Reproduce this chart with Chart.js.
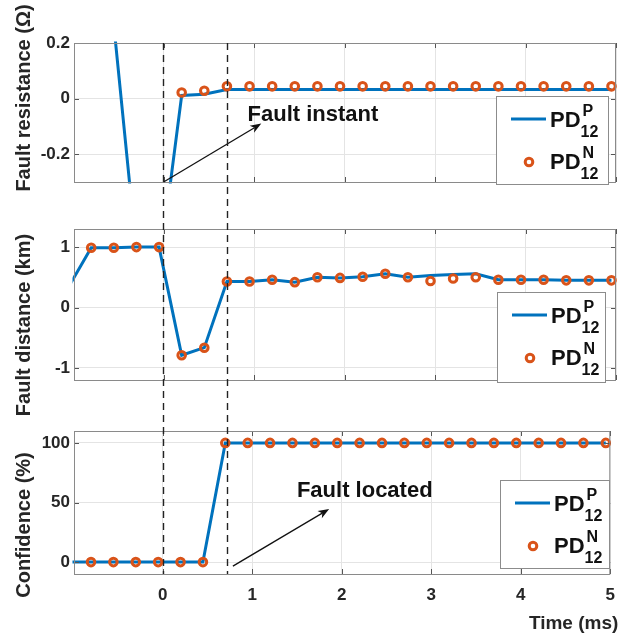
<!DOCTYPE html>
<html>
<head>
<meta charset="utf-8">
<script src="https://cdn.jsdelivr.net/npm/chart.js@4.4.1/dist/chart.umd.min.js"></script>
<style>
  html, body { margin: 0; padding: 0; background: #fff; }
  #fig { position: relative; width: 626px; height: 637px; overflow: hidden; }
  #fig canvas { position: absolute; left: 0; top: 0; }
</style>
</head>
<body>
<div id="fig">
  <canvas id="resChart" width="626" height="637"></canvas>
  <canvas id="distChart" width="626" height="637"></canvas>
  <canvas id="confChart" width="626" height="637"></canvas>
</div>
<script>
// sample times (ms)
const timeMs = [-1.05, -0.8, -0.55, -0.3, -0.05, 0.2, 0.45, 0.7, 0.95, 1.2, 1.45, 1.7, 1.95,
                2.2, 2.45, 2.7, 2.95, 3.2, 3.45, 3.7, 3.95, 4.2, 4.45, 4.7, 4.95];

// Fault resistance (ohm)
const resistP = [null, 0.5, 0.265, -0.55, -0.62, 0.011, 0.016, 0.033, 0.033, 0.033, 0.033, 0.033, 0.033,
                 0.033, 0.033, 0.033, 0.033, 0.033, 0.033, 0.033, 0.033, 0.033, 0.033, 0.033, 0.033];
const resistN = [null, null, null, null, null, 0.022, 0.028, 0.044, 0.044, 0.044, 0.044, 0.044, 0.044,
                 0.044, 0.044, 0.044, 0.044, 0.044, 0.044, 0.044, 0.044, 0.044, 0.044, 0.044, 0.044];

// Fault distance (km)
const distP = [0.34, 0.99, 0.99, 1.0, 1.0, -0.79, -0.665, 0.43, 0.43, 0.46, 0.42, 0.5, 0.49,
               0.51, 0.56, 0.5, 0.53, 0.545, 0.56, 0.46, 0.46, 0.46, 0.45, 0.45, 0.45];
const distN = [null, 0.99, 0.99, 1.0, 1.0, -0.79, -0.665, 0.43, 0.43, 0.46, 0.42, 0.5, 0.49,
               0.51, 0.56, 0.5, 0.44, 0.48, 0.5, 0.46, 0.46, 0.46, 0.45, 0.45, 0.45];

// Confidence (%)
const confP = [0, 0, 0, 0, 0, 0, 0, 100, 100, 100, 100, 100, 100,
               100, 100, 100, 100, 100, 100, 100, 100, 100, 100, 100, 100];
const confN = [null, 0, 0, 0, 0, 0, 0, 100, 100, 100, 100, 100, 100,
               100, 100, 100, 100, 100, 100, 100, 100, 100, 100, 100, 100];

const xTicks = [0, 1, 2, 3, 4, 5];
const resTicks = [-0.2, 0, 0.2];
const distTicks = [-1, 0, 1];
const confTicks = [0, 50, 100];

const faultTimes = [0, 0.72];   // dashed markers: fault instant, fault located
const legendBase = 'PD';
const legendSups = ['P', 'N'];
const legendSub = '12';

const BLUE = '#0072BD';
const ORANGE = '#D95319';
const INK = '#262626';
const FONT = '"Liberation Sans", Arial, Helvetica, sans-serif';
const MARK_R = 3.8, MARK_W = 3;

Chart.defaults.font.family = FONT;

const pts = arr => timeMs.map((t, i) => ({ x: t, y: arr[i] }));

function line(ctx, x1, y1, x2, y2) {
  ctx.beginPath(); ctx.moveTo(x1, y1); ctx.lineTo(x2, y2); ctx.stroke();
}

function arrow(ctx, x1, y1, x2, y2) {
  ctx.save();
  ctx.strokeStyle = '#111'; ctx.fillStyle = '#111'; ctx.lineWidth = 1.3;
  const ang = Math.atan2(y2 - y1, x2 - x1);
  const len = 11, half = 4.2, notch = 8;
  const bx = x2 - len * Math.cos(ang), by = y2 - len * Math.sin(ang);
  const nx = x2 - notch * Math.cos(ang), ny = y2 - notch * Math.sin(ang);
  line(ctx, x1, y1, nx, ny);
  ctx.beginPath();
  ctx.moveTo(x2, y2);
  ctx.lineTo(bx + half * Math.sin(ang), by - half * Math.cos(ang));
  ctx.lineTo(nx, ny);
  ctx.lineTo(bx - half * Math.sin(ang), by + half * Math.cos(ang));
  ctx.closePath();
  ctx.fill();
  ctx.restore();
}

function pdLabel(ctx, x, y, sup) {
  ctx.fillStyle = '#111';
  ctx.textAlign = 'left'; ctx.textBaseline = 'alphabetic';
  ctx.font = 'bold 22px ' + FONT;
  ctx.fillText(legendBase, x, y);
  const w = ctx.measureText(legendBase).width;
  ctx.font = 'bold 16px ' + FONT;
  ctx.fillText(sup, x + w + 2, y - 11);
  ctx.fillText(legendSub, x + w, y + 10.5);
}

function drawLegend(ctx, b) {
  ctx.save();
  ctx.fillStyle = '#fff';
  ctx.fillRect(b.x, b.y, b.w, b.h);
  ctx.strokeStyle = '#8c8c8c'; ctx.lineWidth = 1;
  ctx.strokeRect(b.x + 0.5, b.y + 0.5, b.w, b.h);
  ctx.strokeStyle = BLUE; ctx.lineWidth = 3;
  line(ctx, b.x + 15, b.y + 23, b.x + 50, b.y + 23);
  ctx.strokeStyle = ORANGE; ctx.lineWidth = MARK_W;
  ctx.beginPath(); ctx.arc(b.x + 33, b.y + 66, MARK_R, 0, Math.PI * 2); ctx.stroke();
  pdLabel(ctx, b.x + 54, b.y + 30.5, legendSups[0]);
  pdLabel(ctx, b.x + 54, b.y + 72.5, legendSups[1]);
  ctx.restore();
}

// box, inward ticks, y label, annotations, legend
const axesDecor = {
  id: 'axesDecor',
  afterDraw(chart, args, o) {
    const { ctx, chartArea: a, scales: { x, y } } = chart;
    ctx.save();
    ctx.strokeStyle = '#555'; ctx.lineWidth = 1;
    x.ticks.forEach(t => {
      const px = Math.round(x.getPixelForValue(t.value)) + 0.5;
      line(ctx, px, a.bottom, px, a.bottom - 5);
      line(ctx, px, a.top, px, a.top + 5);
    });
    y.ticks.forEach(t => {
      const py = Math.round(y.getPixelForValue(t.value)) + 0.5;
      line(ctx, a.left, py, a.left + 5, py);
      line(ctx, a.right, py, a.right - 5, py);
    });
    ctx.strokeStyle = '#8a8a8a';
    ctx.strokeRect(a.left + 0.5, a.top + 0.5, a.right - a.left - 1, a.bottom - a.top);

    // y title
    ctx.save();
    ctx.translate(30, o.titleY);
    ctx.rotate(-Math.PI / 2);
    ctx.fillStyle = INK;
    ctx.font = 'bold 20px ' + FONT;
    ctx.textAlign = 'center'; ctx.textBaseline = 'alphabetic';
    ctx.fillText(o.title, 0, 0);
    ctx.restore();

    // x title
    if (o.xTitle) {
      ctx.fillStyle = INK;
      ctx.font = 'bold 19px ' + FONT;
      ctx.textAlign = 'right'; ctx.textBaseline = 'alphabetic';
      ctx.fillText(o.xTitle, a.right + 8, 629);
    }

    // annotation
    if (o.note) {
      const n = o.note;
      ctx.fillStyle = '#111';
      ctx.font = 'bold 22px ' + FONT;
      ctx.textAlign = 'left'; ctx.textBaseline = 'alphabetic';
      ctx.fillText(n.text, x.getPixelForValue(n.tx), y.getPixelForValue(n.ty));
      arrow(ctx, x.getPixelForValue(n.from[0]), y.getPixelForValue(n.from[1]),
                 x.getPixelForValue(n.to[0]), y.getPixelForValue(n.to[1]));
    }

    // dashed lines across all panels
    if (o.dashTop !== undefined) {
      ctx.strokeStyle = '#222'; ctx.lineWidth = 1.4;
      ctx.setLineDash([7, 5]);
      faultTimes.forEach(t => {
        const px = Math.round(x.getPixelForValue(t)) + 0.5;
        line(ctx, px, o.dashTop, px, a.bottom);
      });
      ctx.setLineDash([]);
    }

    drawLegend(ctx, o.legend);
    ctx.restore();
  }
};

function panel(id, p) {
  return new Chart(document.getElementById(id), {
    type: 'line',
    data: {
      datasets: [
        { data: pts(p.seriesN), showLine: false, order: 0, clip: 5,
          pointStyle: 'circle', pointRadius: MARK_R, pointBorderWidth: MARK_W,
          pointBorderColor: ORANGE, pointBackgroundColor: 'rgba(0,0,0,0)' },
        { data: pts(p.seriesP), order: 1, clip: 1.5, borderColor: BLUE, borderWidth: 3,
          pointRadius: 0, tension: 0, spanGaps: false }
      ]
    },
    options: {
      responsive: false,
      animation: false,
      events: [],
      layout: { padding: { top: p.top, bottom: p.bottom, left: 0, right: 10 } },
      plugins: { legend: { display: false }, tooltip: { enabled: false }, axesDecor: p.decor },
      scales: {
        x: {
          type: 'linear', min: -0.99, max: 5,
          afterBuildTicks: s => { s.ticks = xTicks.map(v => ({ value: v })); },
          afterFit: s => { s.height = p.xHeight; },
          grid: { color: '#e4e4e4', drawTicks: false },
          border: { display: false },
          ticks: { display: p.showX, padding: 11, color: INK, font: { size: 17, weight: 'bold' },
                   maxRotation: 0, callback: v => String(v) }
        },
        y: {
          min: p.yMin, max: p.yMax,
          afterBuildTicks: s => { s.ticks = p.yTicks.map(v => ({ value: v })); },
          afterFit: s => { s.width = 74; },
          grid: { color: '#e4e4e4', drawTicks: false },
          border: { display: false },
          ticks: { padding: 4, color: INK, font: { size: 17, weight: 'bold' }, callback: v => String(v) }
        }
      }
    },
    plugins: [axesDecor]
  });
}

const resChart = panel('resChart', {
  seriesP: resistP, seriesN: resistN, yMin: -0.3, yMax: 0.2, yTicks: resTicks,
  top: 43, bottom: 447, xHeight: 8, showX: false,
  decor: {
    title: 'Fault resistance (\u03A9)', titleY: 98,
    legend: { x: 496, y: 96, w: 112, h: 88 },
    note: { text: 'Fault instant', tx: 0.928, ty: -0.08, from: [0, -0.3], to: [1.08, -0.09] }
  }
});

const distChart = panel('distChart', {
  seriesP: distP, seriesN: distN, yMin: -1.2, yMax: 1.3, yTicks: distTicks,
  top: 229, bottom: 249, xHeight: 8, showX: false,
  decor: {
    title: 'Fault distance (km)', titleY: 325,
    legend: { x: 497, y: 292, w: 108, h: 90 }
  }
});

const confChart = panel('confChart', {
  seriesP: confP, seriesN: confN, yMin: -10, yMax: 110, yTicks: confTicks,
  top: 431, bottom: 0, xHeight: 63, showX: true,
  decor: {
    title: 'Confidence (%)', titleY: 525, xTitle: 'Time (ms)',
    dashTop: resChart.chartArea.top,
    legend: { x: 500, y: 480, w: 109, h: 88 },
    note: { text: 'Fault located', tx: 1.5, ty: 54.5, from: [0.785, -3.4], to: [1.86, 44.5] }
  }
});
</script>
</body>
</html>
